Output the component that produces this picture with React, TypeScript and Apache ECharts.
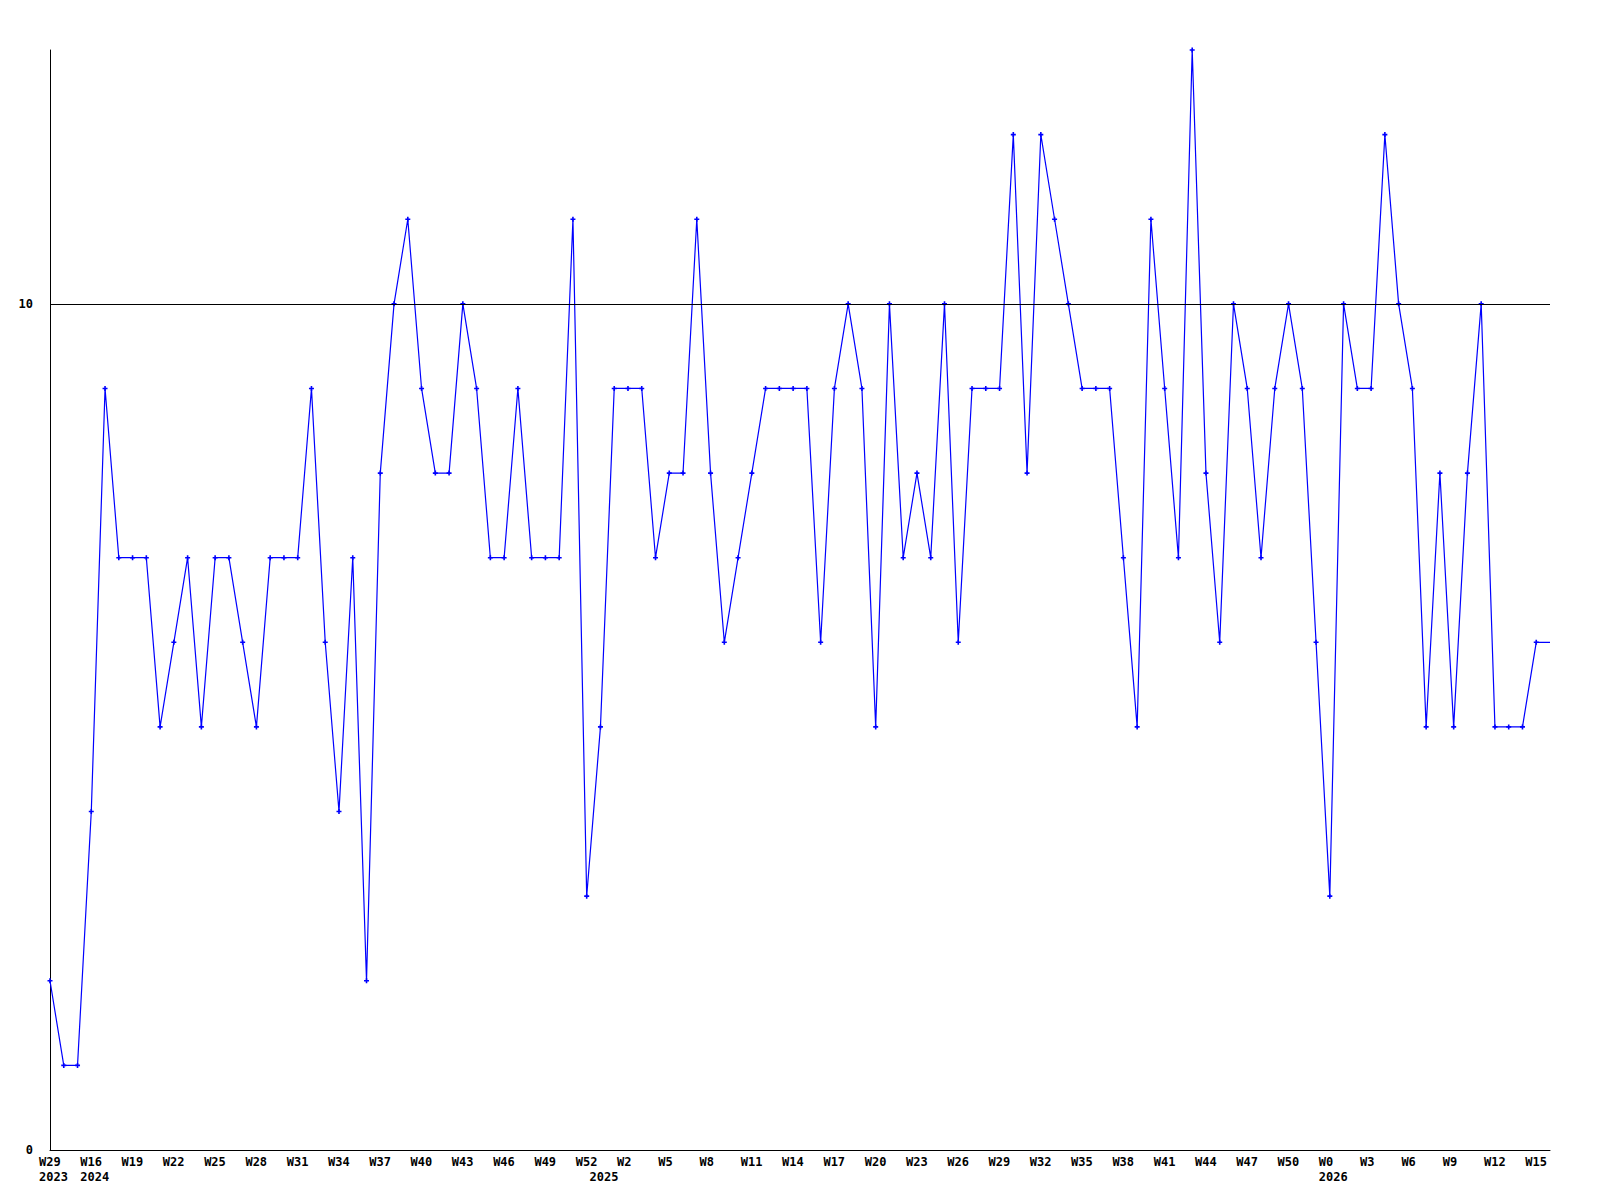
import React, { useEffect, useRef } from "react";
import * as echarts from "echarts";

// Week categories (year, week)
const weekYears: number[] = [
  2023, 2023, 2023,
  ...Array.from({ length: 37 }, () => 2024),
  ...Array.from({ length: 53 }, () => 2025),
  ...Array.from({ length: 17 }, () => 2026),
];
const weekNumbers: number[] = [
  29, 30, 31,
  16, 17, 18, 19, 20, 21, 22, 23, 24, 25, 26, 27, 28, 29, 30, 31, 32, 33, 34, 35, 36, 37, 38, 39, 40, 41, 42, 43, 44, 45, 46, 47, 48, 49, 50, 51, 52,
  0, 1, 2, 3, 4, 5, 6, 7, 8, 9, 10, 11, 12, 13, 14, 15, 16, 17, 18, 19, 20, 21, 22, 23, 24, 25, 26, 27, 28, 29, 30, 31, 32, 33, 34, 35, 36, 37, 38, 39, 40, 41, 42, 43, 44, 45, 46, 47, 48, 49, 50, 51, 52,
  0, 1, 2, 3, 4, 5, 6, 7, 8, 9, 10, 11, 12, 13, 14, 15, 16,
];
const categories: string[] = weekNumbers.map((w, i) => `${weekYears[i]}-W${w}`);

const values: number[] = [
  2, 1, 1, 4, 9, 7, 7, 7, 5, 6,
  7, 5, 7, 7, 6, 5, 7, 7, 7, 9,
  6, 4, 7, 2, 8, 10, 11, 9, 8, 8,
  10, 9, 7, 7, 9, 7, 7, 7, 11, 3,
  5, 9, 9, 9, 7, 8, 8, 11, 8, 6,
  7, 8, 9, 9, 9, 9, 6, 9, 10, 9,
  5, 10, 7, 8, 7, 10, 6, 9, 9, 9,
  12, 8, 12, 11, 10, 9, 9, 9, 7, 5,
  11, 9, 7, 13, 8, 6, 10, 9, 7, 9,
  10, 9, 6, 3, 10, 9, 9, 12, 10, 9,
  5, 8, 5, 8, 10, 5, 5, 5, 6, 6,
];

const yTickLabels: number[] = [0, 10];
const referenceLine = 10;

const FONT = "'DejaVu Sans Mono', 'Liberation Mono', monospace";

export default function App() {
  const ref = useRef<HTMLDivElement>(null);
  useEffect(() => {
    if (!ref.current) return;
    const chart = echarts.init(ref.current, null, { renderer: "svg" });
    const lastIdx = values.length - 1;
    chart.setOption({
      animation: false,
      backgroundColor: "#ffffff",
      grid: { left: 50, right: 50, top: 50, bottom: 50, containLabel: false },
      xAxis: {
        type: "category",
        data: categories,
        boundaryGap: false,
        axisLine: { show: true, lineStyle: { color: "#000", width: 1 } },
        axisTick: { show: false },
        splitLine: { show: false },
        axisLabel: {
          interval: 0,
          align: "left",
          padding: [0, 0, 0, -11],
          margin: 4,
          lineHeight: 15,
          color: "#000",
          fontFamily: FONT,
          fontWeight: "bold",
          fontSize: 12,
          hideOverlap: false,
          formatter: (_v: string, idx: number) => {
            const y = weekYears[idx];
            const newYear = idx === 0 || weekYears[idx - 1] !== y;
            const top = idx % 3 === 0 ? `W${weekNumbers[idx]}` : "";
            if (newYear) return `${top}\n${y}`;
            return top;
          },
        },
      },
      yAxis: {
        type: "value",
        min: 0,
        max: 13,
        interval: 10,
        axisLine: { show: true, lineStyle: { color: "#000", width: 1 } },
        axisTick: { show: false },
        splitLine: { show: false },
        axisLabel: {
          margin: 17,
          color: "#000",
          fontFamily: FONT,
          fontWeight: "bold",
          fontSize: 12,
          formatter: (v: number) => (yTickLabels.includes(v) ? String(v) : ""),
        },
      },
      series: [
        {
          type: "line",
          data: values.map((v, i) =>
            i === lastIdx ? { value: v, symbol: "none" } : v
          ),
          symbol: "path://M1.7 0h1.6v1.7h1.7v1.6h-1.7v1.7h-1.6v-1.7h-1.7v-1.6h1.7z",
          symbolSize: 5,
          showAllSymbol: true,
          lineStyle: { color: "#0000ff", width: 1.2 },
          itemStyle: { color: "#0000ff" },
          markLine: {
            silent: true,
            symbol: ["none", "none"],
            label: { show: false },
            lineStyle: { color: "#000", width: 1, type: "solid" },
            data: [{ yAxis: referenceLine }],
          },
        },
      ],
    });
    return () => chart.dispose();
  }, []);
  return (
    <div
      ref={ref}
      style={{ position: "fixed", left: 0, top: 0, width: 1600, height: 1200, background: "#fff" }}
    />
  );
}
